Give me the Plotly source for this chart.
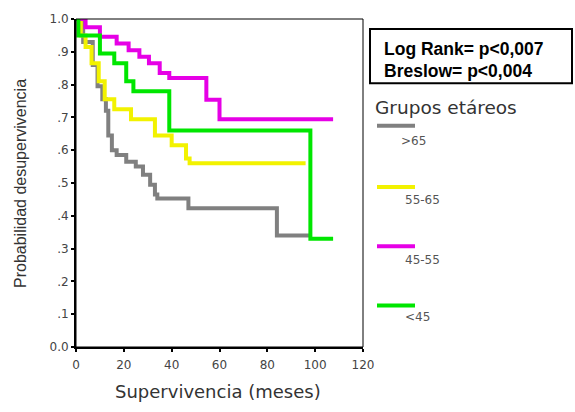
import plotly.graph_objects as go

# ---- data ----
gray_t = [0, 3, 7, 9, 11, 12.5, 13.5, 15, 17, 21, 25, 28, 31, 33, 34, 47, 84, 98]
gray_s = [1.0, 0.93, 0.86, 0.795, 0.755, 0.72, 0.645, 0.6, 0.585, 0.565, 0.55, 0.525, 0.495, 0.465, 0.453, 0.423, 0.34, 0.34]

yellow_t = [0, 2, 4, 6.5, 9.5, 12, 16, 23, 33, 40, 46, 47.5, 96]
yellow_s = [1.0, 0.95, 0.915, 0.865, 0.81, 0.755, 0.725, 0.694, 0.645, 0.615, 0.575, 0.56, 0.56]

magenta_t = [0, 4, 10, 17, 22, 26.5, 30.5, 35, 39, 54.5, 60, 107.5]
magenta_s = [1.0, 0.975, 0.946, 0.925, 0.905, 0.885, 0.865, 0.835, 0.82, 0.754, 0.694, 0.694]

green_t = [0, 1, 10, 16, 21, 24, 39, 98, 107.5]
green_s = [1.0, 0.95, 0.895, 0.865, 0.81, 0.78, 0.66, 0.33, 0.33]

group_labels = [">65", "55-65", "45-55", "<45"]
x_ticks = [0, 20, 40, 60, 80, 100, 120]
y_ticks = [0.0, 0.1, 0.2, 0.3, 0.4, 0.5, 0.6, 0.7, 0.8, 0.9, 1.0]
y_tick_text = ["0.0", ".1", ".2", ".3", ".4", ".5", ".6", ".7", ".8", ".9", "1.0"]

colors = ["#808080", "#f2f200", "#e600e6", "#00e600"]

# ---- layout geometry (pixels) ----
W, H = 575, 412
L, R, T, B = 76, 363, 15, 347


def xp(px):
    return (px - L) / (R - L)


def yp(py):
    return (B - py) / (B - T)


fig = go.Figure()
series = [(gray_t, gray_s), (yellow_t, yellow_s), (magenta_t, magenta_s), (green_t, green_s)]
for (t, s), c, name in zip(series, colors, group_labels):
    fig.add_trace(go.Scatter(x=t, y=s, mode="lines", line=dict(color=c, width=4, shape="hv"),
                             name=name, showlegend=False, hoverinfo="skip"))

tickfont = dict(family="DejaVu Sans", size=12, color="#444")
fig.update_xaxes(range=[0, 120], tickvals=x_ticks, showgrid=False, zeroline=False,
                 showline=True, linecolor="black", linewidth=2,
                 ticks="outside", ticklen=3, tickwidth=2, tickcolor="black",
                 tickfont=tickfont, ticklabelstandoff=3)
fig.update_yaxes(range=[0, 1.0], tickvals=y_ticks, ticktext=y_tick_text, showgrid=False, zeroline=False,
                 showline=True, linecolor="black", linewidth=2,
                 ticks="outside", ticklen=3, tickwidth=2, tickcolor="black",
                 tickfont=tickfont)

shapes = [
    dict(type="rect", xref="paper", yref="paper", x0=0, y0=0, x1=1, y1=1,
         line=dict(color="black", width=1)),
    dict(type="rect", xref="paper", yref="paper", x0=xp(370), y0=yp(80), x1=xp(572), y1=yp(25),
         line=dict(color="black", width=2)),
]
line_y = [123, 185, 245, 305]
label_y = [138, 198, 259, 317]
label_x = [399, 403, 403, 403]
annotations = []
for c, ly, lab, tx, ty in zip(colors, line_y, group_labels, label_x, label_y):
    shapes.append(dict(type="line", xref="paper", yref="paper", x0=xp(377), x1=xp(415),
                       y0=yp(ly), y1=yp(ly), line=dict(color=c, width=4)))
    annotations.append(dict(xref="paper", yref="paper", x=xp(tx), y=yp(ty), text=lab, showarrow=False,
                            xanchor="left", yanchor="middle",
                            font=dict(family="DejaVu Sans", size=12, color="#555")))

annotations += [
    dict(xref="paper", yref="paper", x=xp(382), y=yp(45), text="<b>Log Rank= p<0,007</b>", showarrow=False,
         xanchor="left", yanchor="middle",
         font=dict(family="Liberation Sans Narrow, Liberation Sans", size=17.5, color="black")),
    dict(xref="paper", yref="paper", x=xp(382), y=yp(68), text="<b>Breslow= p<0,004</b>", showarrow=False,
         xanchor="left", yanchor="middle",
         font=dict(family="Liberation Sans Narrow, Liberation Sans", size=17.5, color="black")),
    dict(xref="paper", yref="paper", x=xp(373), y=yp(105), text="Grupos etáreos", showarrow=False,
         xanchor="left", yanchor="middle",
         font=dict(family="DejaVu Sans", size=18.5, color="#333")),
    dict(xref="paper", yref="paper", x=xp(218), y=yp(392), text="Supervivencia (meses)", showarrow=False,
         xanchor="center", yanchor="middle",
         font=dict(family="DejaVu Sans", size=18, color="#333")),
    dict(xref="paper", yref="paper", x=xp(21), y=yp(182), text="Probabilidad desupervivencia", showarrow=False,
         xanchor="center", yanchor="middle", textangle=-90,
         font=dict(family="Liberation Sans", size=16, color="#333")),
]

fig.update_layout(width=W, height=H, margin=dict(l=L, r=W - R, t=T, b=H - B),
                  paper_bgcolor="white", plot_bgcolor="white",
                  shapes=shapes, annotations=annotations, showlegend=False)

fig.write_html("out.html")
